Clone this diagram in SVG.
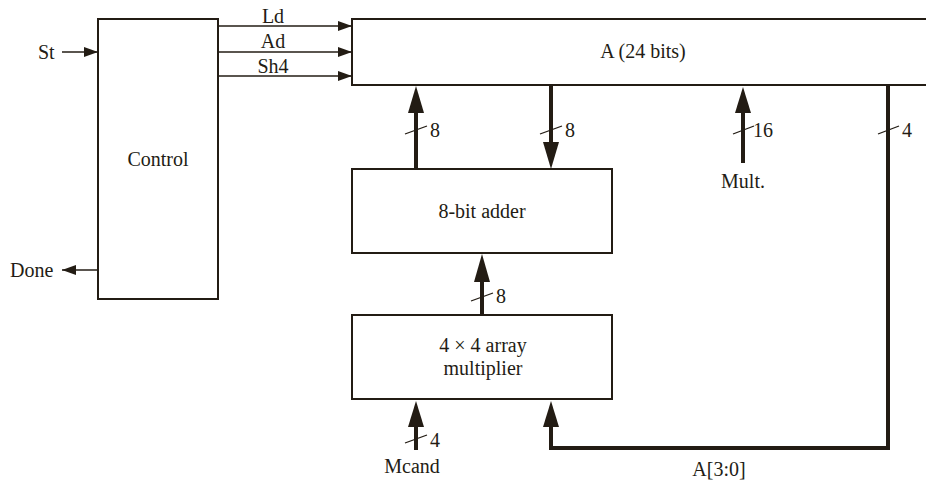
<svg xmlns="http://www.w3.org/2000/svg" width="926" height="480" viewBox="0 0 926 480">
<style>
.box{fill:#fff;stroke:#231c14;stroke-width:2}
.thin{stroke:#231c14;stroke-width:1.5;fill:none}
.bus{stroke:#231c14;stroke-width:4;fill:none}
.sl{stroke:#231c14;stroke-width:1.3}
.head{fill:#231c14}
text{font-family:"Liberation Serif","Times New Roman",serif;font-size:20px;fill:#231c14}
.m{text-anchor:middle}
</style>
<defs>
<marker id="ah" viewBox="0 0 14 10" refX="14" refY="5" markerWidth="14" markerHeight="10" markerUnits="userSpaceOnUse" orient="auto"><path d="M0,0L14,5L0,10Z" class="head"/></marker>
</defs>
<rect width="926" height="480" fill="#fff"/>
<g id="control"><rect class="box" x="98" y="19" width="120" height="280"/><text class="m" x="158" y="166">Control</text></g>
<g id="regA"><rect class="box" x="352" y="19" width="590" height="66"/><text class="m" x="643" y="58">A (24 bits)</text></g>
<g id="adder"><rect class="box" x="352" y="169" width="260" height="84"/><text class="m" x="482" y="218">8-bit adder</text></g>
<g id="mult"><rect class="box" x="352" y="315" width="260" height="84"/><text class="m" x="483" y="352">4 × 4 array</text><text class="m" x="483" y="375">multiplier</text></g>
<g id="connectors">
<line class="thin" x1="62" y1="52" x2="98" y2="52" marker-end="url(#ah)"/>
<line class="thin" x1="98" y1="270" x2="62" y2="270" marker-end="url(#ah)"/>
<line class="thin" x1="218" y1="26" x2="352" y2="26" marker-end="url(#ah)"/>
<line class="thin" x1="218" y1="52" x2="352" y2="52" marker-end="url(#ah)"/>
<line class="thin" x1="218" y1="76" x2="352" y2="76" marker-end="url(#ah)"/>
<line class="bus" x1="416" y1="169" x2="416" y2="110"/><path class="head" d="M408,113L416,86L424,113Z"/>
<line class="bus" x1="551" y1="85" x2="551" y2="145"/><path class="head" d="M543,142L551,169L559,142Z"/>
<line class="bus" x1="743" y1="163" x2="743" y2="110"/><path class="head" d="M735,113L743,87L751,113Z"/>
<line class="bus" x1="482" y1="315" x2="482" y2="279"/><path class="head" d="M474,282L482,254L490,282Z"/>
<line class="bus" x1="416" y1="450" x2="416" y2="424"/><path class="head" d="M408,427L416,401L424,427Z"/>
<polyline class="bus" points="888,85 888,448 551,448 551,424"/><path class="head" d="M543,427L551,401L559,427Z"/>
<line class="sl" x1="405" y1="134" x2="427" y2="126"/>
<line class="sl" x1="540" y1="134" x2="562" y2="126"/>
<line class="sl" x1="733" y1="134" x2="754" y2="126"/>
<line class="sl" x1="878" y1="134" x2="899" y2="126"/>
<line class="sl" x1="471" y1="301" x2="493" y2="293"/>
<line class="sl" x1="405" y1="443" x2="427" y2="435"/>
</g>
<g id="labels">
<text x="38" y="59">St</text>
<text x="10" y="277">Done</text>
<text class="m" x="273" y="23">Ld</text>
<text class="m" x="273" y="48">Ad</text>
<text class="m" x="273" y="73">Sh4</text>
<text x="430" y="137">8</text>
<text x="565" y="137">8</text>
<text x="753" y="137">16</text>
<text x="902" y="137">4</text>
<text x="496" y="303">8</text>
<text x="430" y="447">4</text>
<text class="m" x="743" y="188">Mult.</text>
<text class="m" x="412" y="473">Mcand</text>
<text class="m" x="719" y="476">A[3:0]</text>
</g>
</svg>
